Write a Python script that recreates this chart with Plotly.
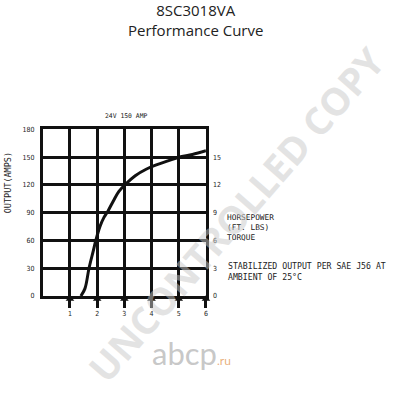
import plotly.graph_objects as go

# Data
curve_rpm = [1.4, 1.55, 1.7, 1.85, 1.95, 2.1, 2.25, 2.4, 2.6, 2.8, 3.05, 3.4, 3.8, 4.2, 4.6, 5.0, 5.5, 6.0]
curve_amps = [0, 8, 30, 48, 60, 75, 85, 92, 103, 113, 121, 130, 137, 142, 146, 150, 153, 157]
marker_x = [1, 2, 3, 4, 5, 6]
marker_y = [0, 0, 0, 0, 0, 0]
left_ticks = [0, 30, 60, 90, 120, 150, 180]
right_ticks = [0, 3, 6, 9, 12, 15]
x_ticks = [1, 2, 3, 4, 5, 6]

small = dict(family="DejaVu Sans Condensed, DejaVu Sans", size=7, color="#222")
mono = "DejaVu Sans Mono"

XD = [43/393, 207/393]
YD = [1-298/400, 1-128/400]
# helper subplot for the marker row (sits slightly below the zero line, unclipped)
ext_bottom = 320
zero_px = 301
px_per = (zero_px - 128) / 180
y3_low = -(ext_bottom - zero_px) / px_per

fig = go.Figure()
fig.add_trace(go.Scatter(x=[0, 6], y=[0, 18], yaxis="y2", mode="markers", marker=dict(opacity=0),
                         showlegend=False, hoverinfo="skip"))
fig.add_trace(go.Scatter(x=curve_rpm, y=curve_amps, mode="lines", line=dict(color="#111", width=3, shape="spline"),
                         showlegend=False, hoverinfo="skip"))
fig.add_trace(go.Scatter(x=marker_x, y=marker_y, xaxis="x2", yaxis="y3", mode="markers", cliponaxis=False,
                         marker=dict(symbol="triangle-up", size=7.5, color="#111"),
                         showlegend=False, hoverinfo="skip"))

fig.update_layout(
    width=393, height=400, margin=dict(l=0, r=0, t=0, b=0),
    paper_bgcolor="white", plot_bgcolor="rgba(0,0,0,0)",
    xaxis=dict(domain=XD, range=[0, 6], tickvals=x_ticks, showgrid=True,
               gridcolor="#111", gridwidth=2.5, showline=True, linecolor="#111", linewidth=2.5, mirror=True,
               zeroline=False, tickfont=small, ticks="outside", ticklen=9, tickwidth=2.5, tickcolor="#111",
               ticklabelstandoff=0),
    yaxis=dict(domain=YD, range=[0, 180], tickvals=left_ticks, showgrid=True,
               gridcolor="#111", gridwidth=2.5, showline=True, linecolor="#111", linewidth=2.5, mirror=True,
               zeroline=False, tickfont=small, ticks="", ticklabelstandoff=4),
    yaxis2=dict(overlaying="y", side="right", range=[0, 18], tickvals=right_ticks, showgrid=False,
                zeroline=False, tickfont=small, ticks="", ticklabelstandoff=6, anchor="x"),
    xaxis2=dict(domain=XD, range=[0, 6], visible=False, showgrid=False, zeroline=False, anchor="y3"),
    yaxis3=dict(domain=[1-ext_bottom/400, YD[1]], range=[y3_low, 180], visible=False, showgrid=False,
                zeroline=False, anchor="x2"),
)

ann = []
def t(text, x, y, size=7, xanchor="left", family=mono, **kw):
    ann.append(dict(text=text, x=x/393, y=1-y/400, xref="paper", yref="paper", showarrow=False,
                    xanchor=xanchor, yanchor="middle", font=dict(family=family, size=size, color="#222"), **kw))

t("8SC3018VA<br>Performance Curve", 196, 16, size=15, xanchor="center", family="Open Sans", align="center")
t("24V 150 AMP", 127, 114, size=6.4, xanchor="center")
t("OUTPUT(AMPS)", 8, 182, size=8.5, xanchor="center", textangle=-90)
t("HORSEPOWER<br>(FT. LBS)<br>TORQUE", 226, 228, size=7.8, align="left")
t("STABILIZED OUTPUT PER SAE J56 AT<br>AMBIENT OF 25°C", 227, 273, size=8.2, align="left")

# watermark
ann.append(dict(text="<b>UNCONTROLLED COPY</b>", x=237/393, y=1-214/400, xref="paper", yref="paper",
                showarrow=False, textangle=-49, font=dict(family="Open Sans", size=38, color="rgba(200,200,200,0.5)")))
ann.append(dict(text="abcp<span style='font-size:12px;color:#e39a5a'>.ru</span>", x=192/393, y=1-378/400,
                xref="paper", yref="paper", showarrow=False,
                font=dict(family="Lato", size=31, color="rgba(185,185,185,0.8)")))
fig.update_layout(annotations=ann)

fig.write_html("out.html")
